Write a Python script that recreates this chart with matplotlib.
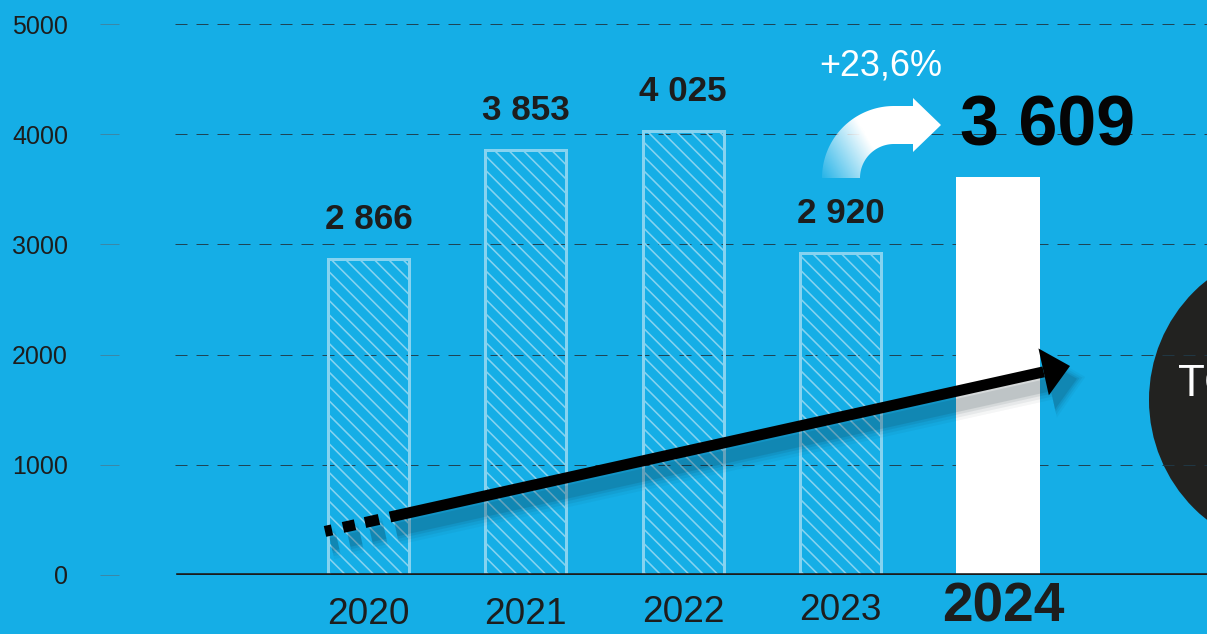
import numpy as np
import matplotlib
matplotlib.use("Agg")
import matplotlib.pyplot as plt
from matplotlib.patches import Circle, Polygon

## Data
years = ["2020", "2021", "2022", "2023", "2024"]
values = [2866, 3853, 4025, 2920, 3609]
value_labels = ["2 866", "3 853", "4 025", "2 920", "3 609"]
growth_label = "+23,6%"
y_ticks = [0, 1000, 2000, 3000, 4000, 5000]
circle_text = "TO"

## Styling
DPI = 86
W, H = 1207, 634
BG = "#15aee6"
HATCH = "#86d3f0"
DARK = "#1d1d1d"

def pt(px):
    # pixels -> points at this dpi
    return px * 72 / DPI

plt.rcParams["font.family"] = ["Liberation Sans", "DejaVu Sans"]
plt.rcParams["hatch.linewidth"] = pt(1.6)
plt.rcParams["lines.scale_dashes"] = False

fig = plt.figure(figsize=(W / DPI, H / DPI), dpi=DPI, facecolor=BG)

# background layer (pixel coords) for the dark circle
bg = fig.add_axes([0, 0, 1, 1], zorder=0)
bg.set_xlim(0, W)
bg.set_ylim(H, 0)
bg.axis("off")

# main chart
ax = fig.add_axes([175 / W, (H - 575) / H, (W - 175) / W, 575 / H], zorder=1)
ax.patch.set_alpha(0)

# foreground layer (pixel coords) for arrows
fg = fig.add_axes([0, 0, 1, 1], zorder=2)
fg.axis("off")
fg.patch.set_alpha(0)

x = np.arange(len(years))
ax.set_xlim(-1.229, 5.327)
ax.set_ylim(0, 5218)

# hatched bars for past years, solid white bar for the last one
ax.bar(x[:-1], values[:-1], width=0.515, facecolor="none", edgecolor=HATCH,
       hatch="\\\\", linewidth=pt(3), zorder=2)
ax.bar(x[-1], values[-1], width=0.535, color="white", zorder=2)

# grid and zero line
ax.set_yticks(y_ticks)
ax.set_axisbelow(True)
ax.yaxis.grid(True, color="#203a48", linewidth=pt(1),
              linestyle=(0, (pt(12), pt(9))), alpha=0.9)
ax.axhline(0, xmin=3 / (W - 175), color="#1b1b1b", lw=pt(3.6), zorder=5)

for s in ax.spines.values():
    s.set_visible(False)
ax.spines["left"].set_position(("outward", pt(56)))
ax.tick_params(axis="y", length=pt(19), width=pt(1), color="#3a88a8",
               pad=pt(32), labelsize=pt(25), labelcolor=DARK)
ax.tick_params(axis="x", length=0, labelbottom=False)

# year labels under the axis
label_drop = [40, 39, 37, 35, 32]
label_shift = [0, 0, 0, 0, 5]
for i, yr in enumerate(years):
    last = i == len(years) - 1
    ax.annotate(yr, (x[i], 0), xytext=(pt(label_shift[i]), -pt(label_drop[i])),
                textcoords="offset points", ha="center", va="center",
                fontsize=pt(55) if last else pt(37),
                fontweight="bold" if last else "normal", color=DARK,
                annotation_clip=False)

# value labels
for i in range(len(years) - 1):
    ax.annotate(value_labels[i], (x[i], values[i]), xytext=(0, pt(40)),
                textcoords="offset points", ha="center", va="center",
                fontsize=pt(35), fontweight="bold", color=DARK)
ax.annotate(value_labels[-1], (x[-1], values[-1]), xytext=(pt(49), pt(50)),
            textcoords="offset points", ha="center", va="center",
            fontsize=pt(70), fontweight="bold", color="#050505")

# growth label + curved white arrow with a fade towards its tail
fg.text(881, 66, growth_label, ha="center", va="center", fontsize=pt(36),
        color="white")
cx, cy, r, half = 894, 178, 53, 19
mid = cy - r
th = np.linspace(np.pi, np.pi / 2, 60)
outer = np.c_[cx + (r + half) * np.cos(th), cy - (r + half) * np.sin(th)]
inner = np.c_[cx + (r - half) * np.cos(th), cy - (r - half) * np.sin(th)]
shape = np.vstack([outer, [[913, mid - half], [913, mid - 27], [941, mid],
                           [913, mid + 27], [913, mid + half]], inner[::-1]])
clip = Polygon(shape, closed=True, facecolor="none", edgecolor="none",
               transform=fg.transData)
fg.add_patch(clip)
gx, gy = np.meshgrid(np.linspace(810, 945, 140), np.linspace(90, 185, 100))
alpha = np.clip(0.08 + ((gx - 822) + (178 - gy) * 0.6) / 75, 0, 1)
grad = np.zeros(gx.shape + (4,))
grad[..., :3] = 1.0
grad[..., 3] = alpha
im = fg.imshow(grad, extent=[810, 945, 185, 90], origin="upper",
               interpolation="bilinear", aspect="auto", zorder=3)
im.set_clip_path(clip)

# black trend arrow with soft shadow
p0 = np.array([390.0, 517.0])
tip = np.array([1070.0, 366.0])
u = (tip - p0) / np.linalg.norm(tip - p0)
nrm = np.array([-u[1], u[0]])
base = tip - 27 * u
slope = u[1] / u[0]
dash_x = [(11, 25), (35, 47), (58, 65)]

def draw_arrow(off, color, lw, alpha, zorder):
    o = np.array(off)
    fg.plot([p0[0] + o[0], base[0] + o[0]], [p0[1] + o[1], base[1] + o[1]],
            color=color, lw=pt(lw), alpha=alpha, solid_capstyle="butt",
            zorder=zorder)
    for a, b in dash_x:
        xs = np.array([p0[0] - b, p0[0] - a])
        ys = p0[1] + slope * (xs - p0[0])
        fg.plot(xs + o[0], ys + o[1], color=color, lw=pt(lw), alpha=alpha,
                solid_capstyle="butt", zorder=zorder)
    w = 24 + (lw - 11) / 2
    head = [base + nrm * w + o, tip + u * (lw - 11) / 2 + o, base - nrm * w + o]
    fg.add_patch(Polygon(head, color=color, alpha=alpha, lw=0, zorder=zorder))

for lw, a in [(30, 0.04), (24, 0.06), (18, 0.08), (13, 0.11)]:
    draw_arrow((6, 13), "#0a1f2a", lw, a, 3)
draw_arrow((0, 0), "black", 11, 1.0, 4)

fg.set_xlim(0, W)
fg.set_ylim(H, 0)

# dark circle at the right edge (partly cut off)
bg.add_patch(Circle((1302, 400), 153, color="#222220", lw=0))
bg.text(1178, 384, circle_text, ha="left", va="center", fontsize=pt(44),
        color="white")

fig.savefig("out.png", dpi=DPI, facecolor=BG)
